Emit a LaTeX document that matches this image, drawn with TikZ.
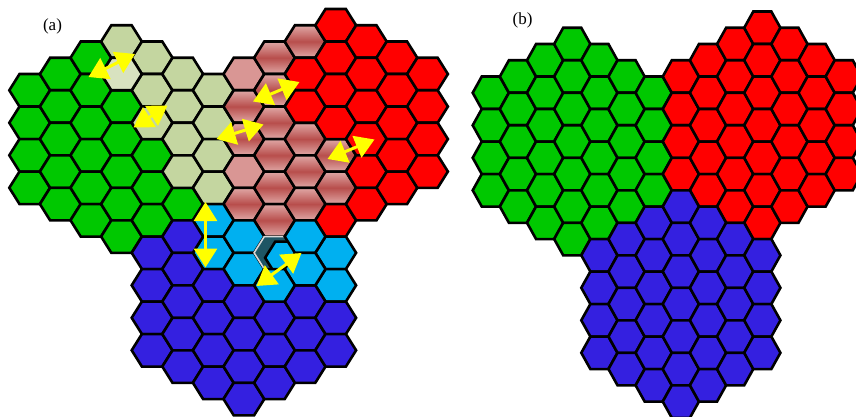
\documentclass[tikz,border=0pt]{standalone}
\usepackage{fontspec}
\setmainfont{Liberation Serif}
\usetikzlibrary{arrows.meta}
\definecolor{hgreen}{RGB}{0,200,0}
\definecolor{hred}{RGB}{255,0,0}
\definecolor{hblue}{RGB}{52,32,224}
\definecolor{hcyan}{RGB}{0,176,240}
\definecolor{hsage}{RGB}{196,214,160}
\definecolor{hpale}{RGB}{216,226,192}
\definecolor{hpink}{RGB}{217,150,148}
\definecolor{gmid}{RGB}{184,78,76}
\definecolor{gedge}{RGB}{224,168,166}
\definecolor{hteal}{RGB}{30,85,100}
\definecolor{hyel}{RGB}{255,255,0}
\tikzset{
  hexline/.style={draw=black,line width=2.6pt},
  gradfill/.style={top color=gedge,bottom color=gedge,middle color=gmid},
  yarrow/.style={draw=hyel,line width=3pt,arrows={Triangle[length=19pt,width=23pt]-Triangle[length=19pt,width=23pt]}},
  lab/.style={font=\fontsize{17}{20}\selectfont,inner sep=0pt}
}
% panel (a) hexagon: column, row index, style
\newcommand\HexA[3]{\path[hexline,#3] ({9.3+30.6*(#1)},{90.3+16.25*(#2)}) -- ++(10.2,-16.25) -- ++(20.4,0) -- ++(10.2,16.25) -- ++(-10.2,16.25) -- ++(-20.4,0) -- cycle;}
% panel (b) hexagon
\newcommand\HexB[3]{\path[hexline,#3] ({472.7+27.15*(#1)},{92.8+16.25*(#2)}) -- ++(9.05,-16.25) -- ++(18.1,0) -- ++(9.05,16.25) -- ++(-9.05,16.25) -- ++(-18.1,0) -- cycle;}
\begin{document}
\begin{tikzpicture}[x=1pt,y=-1pt]
\useasboundingbox[fill=white] (0,0) rectangle (856,417);
% ---------------- panel (a) ----------------
\foreach \c/\j in {0/0,0/2,0/4,0/6,1/-1,1/1,1/3,1/5,1/7,2/-2,2/0,2/2,2/4,2/6,2/8,3/1,3/3,3/5,3/7,3/9,4/4,4/6,4/8,5/7}
  {\HexA{\c}{\j}{fill=hgreen}}
\foreach \c/\j in {3/-3,4/-2,4/0,4/2,5/-1,5/1,5/3,5/5,6/0,6/2,6/4,6/6}
  {\HexA{\c}{\j}{fill=hsage}}
\HexA{3}{-1}{fill=hpale}
\foreach \c/\j in {7/-1,7/5}
  {\HexA{\c}{\j}{fill=hpink}}
\foreach \c/\j in {7/1,7/3,7/7,8/-2,8/0,8/2,8/4,8/6,8/8,9/-3,9/3,9/5,9/7,10/4,10/6}
  {\HexA{\c}{\j}{gradfill}}
\foreach \c/\j in {9/-1,9/1,10/-4,10/-2,10/0,10/2,10/8,11/-3,11/-1,11/1,11/3,11/5,11/7,12/-2,12/0,12/2,12/4,12/6,13/-1,13/1,13/3,13/5}
  {\HexA{\c}{\j}{fill=hred}}
\foreach \c/\j in {6/8,6/10,7/9,7/11,10/10,10/12}
  {\HexA{\c}{\j}{fill=hcyan}}
\foreach \c/\j in {4/10,4/12,4/14,4/16,5/9,5/11,5/13,5/15,5/17,6/12,6/14,6/16,6/18,7/13,7/15,7/17,7/19,8/14,8/16,8/18,9/13,9/15,9/17,10/14,10/16}
  {\HexA{\c}{\j}{fill=hblue}}
% displaced cell
\HexA{8}{10}{fill=hteal,draw=gray!30,line width=1.6pt}
\HexA{8}{10}{fill=hcyan,xshift=11pt,yshift=-5pt}
\foreach \c/\j in {9/9,9/11,8/12}
  {\HexA{\c}{\j}{fill=hcyan}}
% arrows
\coordinate (a1s) at (88.5,77);   \coordinate (a1e) at (135,54);
\coordinate (a2s) at (133.5,127.5); \coordinate (a2e) at (167.5,105.5);
\coordinate (a3s) at (216.5,139); \coordinate (a3e) at (263.5,124.5);
\coordinate (a4s) at (253,101.5); \coordinate (a4e) at (299.5,82);
\coordinate (a5s) at (327.5,159); \coordinate (a5e) at (374.5,139.5);
\coordinate (a6s) at (205.5,202); \coordinate (a6e) at (205.5,267.5);
\coordinate (a7s) at (256.5,286); \coordinate (a7e) at (301.5,253);
\foreach \n in {1,...,7} {\draw[yarrow] (a\n s) -- (a\n e);}
\node[lab] (la) at (52.5,26) {(a)};
% ---------------- panel (b) ----------------
\foreach \c/\a/\n in {0/0/3,1/-1/4,2/-2/5,3/-3/6,4/-2/5,5/-1/4,6/0/3}
  {\foreach \k in {0,...,\n} {\HexB{\c}{\a+2*\k}{fill=hgreen}}}
\foreach \c/\a/\n in {7/-1/3,8/-2/4,9/-3/5,10/-4/6,11/-3/5,12/-2/4,13/-1/3}
  {\foreach \k in {0,...,\n} {\HexB{\c}{\a+2*\k}{fill=hred}}}
\foreach \c/\a/\n in {4/10/3,5/9/4,6/8/5,7/7/6,8/8/5,9/9/4,10/10/3}
  {\foreach \k in {0,...,\n} {\HexB{\c}{\a+2*\k}{fill=hblue}}}
\node[lab] (lb) at (522.5,20) {(b)};
\end{tikzpicture}
\end{document}
